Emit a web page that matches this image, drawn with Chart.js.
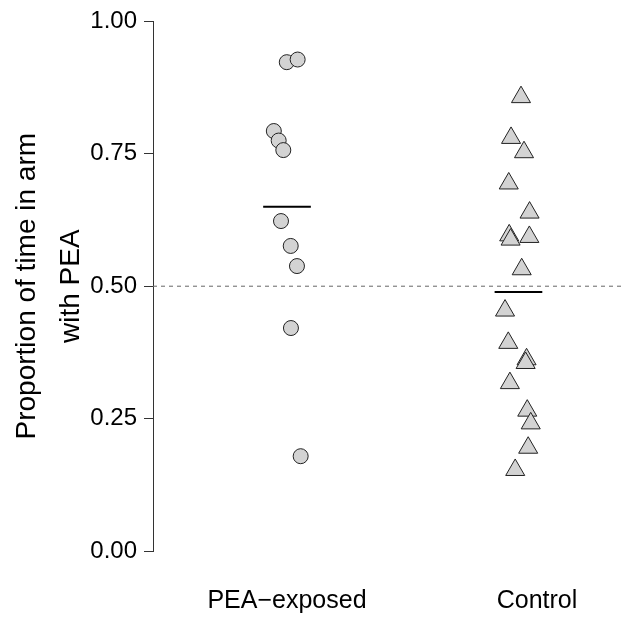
<!DOCTYPE html>
<html lang="en">
<head>
  <meta charset="UTF-8" />
  <title>Proportion of time in arm with PEA</title>
  <script src="https://cdn.jsdelivr.net/npm/chart.js"></script>
  <style>
    body {
      margin: 0;
      background: #fff;
    }
    canvas {
      display: block;
    }
  </style>
</head>
<body>
  <canvas id="chart" width="624" height="620"></canvas>

  <script>
    // groups on the x axis
    const categories = ['PEA\u2212exposed', 'Control'];
    // where the group labels sit on the x axis
    const labelPositions = [1, 2.08];

    // PEA-exposed: y = proportion, x = jittered position around 1
    const peaValues = [0.923, 0.928, 0.793, 0.775, 0.757, 0.623, 0.576, 0.538, 0.421, 0.179];
    const peaJitter = [0.999, 1.046, 0.943, 0.964, 0.984, 0.974, 1.016, 1.043, 1.017, 1.059];

    // Control: y = proportion, x = jittered position around 2
    const controlValues = [0.857, 0.780, 0.753, 0.694, 0.639, 0.596, 0.588, 0.593, 0.532,
                           0.454, 0.393, 0.362, 0.355, 0.317, 0.265, 0.241, 0.195, 0.153];
    const controlJitter = [2.011, 1.968, 2.024, 1.958, 2.048, 1.960, 1.966, 2.047, 2.014,
                           1.942, 1.956, 2.035, 2.031, 1.963, 2.038, 2.053, 2.042, 1.986];

    // group means (short black bars)
    const groupMeans = [0.650, 0.489];

    // chance level (dashed line)
    const chanceLevel = 0.5;

    const yTicks = [0, 0.25, 0.5, 0.75, 1];

    const xMin = 0.421;
    const xMax = 2.456;
    const halfBar = 0.103;

    const toPoints = (xs, ys) => ys.map((y, i) => ({ x: xs[i], y: y }));

    const meanSets = groupMeans.map((m, i) => ({
      type: 'line',
      data: [{ x: i + 1 - halfBar, y: m }, { x: i + 1 + halfBar, y: m }],
      borderColor: '#000',
      borderWidth: 2,
      pointRadius: 0,
      fill: false
    }));

    new Chart(document.getElementById('chart').getContext('2d'), {
      type: 'scatter',
      data: {
        datasets: [
          {
            data: toPoints(peaJitter, peaValues),
            pointStyle: 'circle',
            pointRadius: 7.5,
            backgroundColor: '#d3d3d3',
            borderColor: '#222',
            borderWidth: 1
          },
          {
            data: toPoints(controlJitter, controlValues),
            pointStyle: 'triangle',
            pointRadius: 11,
            backgroundColor: '#d3d3d3',
            borderColor: '#222',
            borderWidth: 1
          },
          ...meanSets,
          {
            type: 'line',
            data: [{ x: xMin, y: chanceLevel }, { x: xMax, y: chanceLevel }],
            borderColor: '#666',
            borderWidth: 1,
            borderDash: [4, 4],
            pointRadius: 0,
            fill: false
          }
        ]
      },
      options: {
        responsive: false,
        animation: false,
        layout: {
          autoPadding: false,
          padding: { top: 19, right: 0, bottom: 0, left: 0 }
        },
        scales: {
          x: {
            type: 'linear',
            min: xMin,
            max: xMax,
            grid: { display: false, drawTicks: false },
            border: { display: false },
            afterBuildTicks: scale => {
              scale.ticks = labelPositions.map(p => ({ value: p }));
            },
            afterFit: scale => {
              scale.height = 69;
            },
            ticks: {
              padding: 35,
              color: '#000',
              font: { family: 'Liberation Sans', size: 25 },
              callback: (v, i) => categories[i]
            }
          },
          y: {
            min: 0,
            max: 1,
            afterBuildTicks: scale => {
              scale.ticks = yTicks.map(v => ({ value: v }));
            },
            afterFit: scale => {
              scale.width = 153;
            },
            grid: {
              drawOnChartArea: false,
              tickLength: 9,
              color: '#333'
            },
            border: { color: '#333', width: 1 },
            ticks: {
              padding: 7,
              color: '#000',
              font: { family: 'Liberation Sans', size: 24 },
              callback: v => v.toFixed(2)
            },
            title: {
              display: true,
              text: ['Proportion of time in arm', 'with PEA'],
              color: '#000',
              font: { family: 'Liberation Sans', size: 28, lineHeight: 1.57 },
              padding: { top: 5, bottom: 0 }
            }
          }
        },
        plugins: {
          legend: { display: false },
          tooltip: { enabled: false }
        }
      }
    });
  </script>
</body>
</html>
